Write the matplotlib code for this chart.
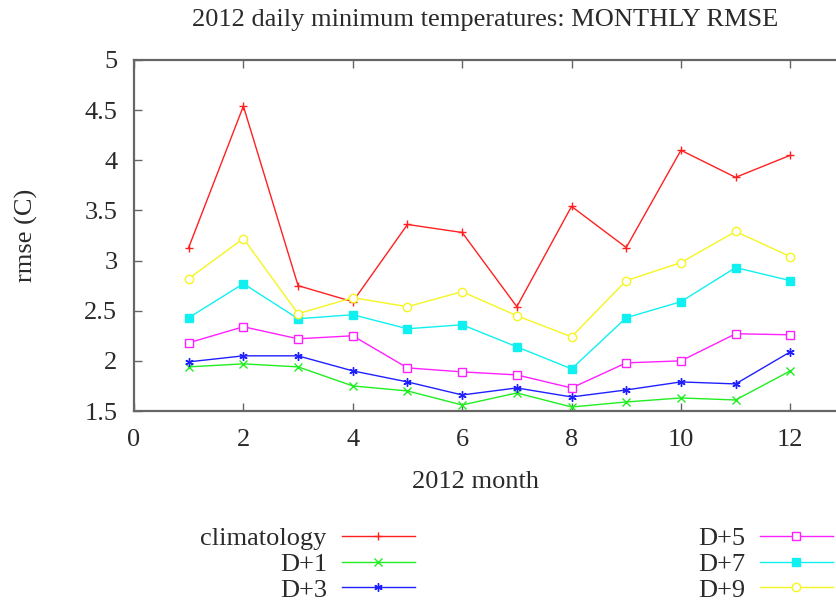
import matplotlib
matplotlib.use("Agg")
import matplotlib.pyplot as plt

plt.rcParams['font.family'] = ['Liberation Serif', 'DejaVu Serif']

months = [1, 2, 3, 4, 5, 6, 7, 8, 9, 10, 11, 12]

climatology = [3.13, 4.54, 2.75, 2.59, 3.36, 3.28, 2.54, 3.54, 3.13, 4.10, 3.83, 4.05]
d1 = [1.94, 1.97, 1.94, 1.75, 1.70, 1.56, 1.68, 1.54, 1.59, 1.63, 1.61, 1.90]
d3 = [1.99, 2.05, 2.05, 1.90, 1.79, 1.66, 1.73, 1.64, 1.71, 1.79, 1.77, 2.09]
d5 = [2.18, 2.34, 2.22, 2.25, 1.93, 1.89, 1.86, 1.73, 1.98, 2.00, 2.27, 2.26]
d7 = [2.43, 2.77, 2.42, 2.46, 2.32, 2.36, 2.14, 1.92, 2.43, 2.59, 2.93, 2.80]
d9 = [2.82, 3.22, 2.47, 2.63, 2.54, 2.69, 2.45, 2.24, 2.80, 2.98, 3.29, 3.04]

x_ticks = [0, 2, 4, 6, 8, 10, 12]
y_ticks = [1.5, 2, 2.5, 3, 3.5, 4, 4.5, 5]
y_tick_labels = ["1.5", "2", "2.5", "3", "3.5", "4", "4.5", "5"]

series = [
    ("climatology", climatology, "#ff2020", dict(marker="+", mfc="none")),
    ("D+1", d1, "#20ee20", dict(marker="x", mfc="none")),
    ("D+3", d3, "#2020ff", dict(marker=(6, 2, 0), mfc="none")),
    ("D+5", d5, "#ff20ff", dict(marker="s", mfc="white")),
    ("D+7", d7, "#10f0f0", dict(marker="s", mfc="#10f0f0")),
    ("D+9", d9, "#f5f520", dict(marker="o", mfc="white")),
]

FS = 19
TXT = "#2a2a2a"
W, H = 837, 603
fig = plt.figure(figsize=(W / 100, H / 100), dpi=100)

# plot box in pixel coordinates (right edge runs just past the canvas)
left, right, top, bottom = 134, 845, 60, 411
ax = fig.add_axes([left / W, 1 - bottom / H, (right - left) / W, (bottom - top) / H])

handles = []
for name, vals, col, mk in series:
    ln, = ax.plot(months, vals, color=col, lw=1.0, ms=6, mew=1.0, mec=col,
                  label=name, **mk)
    handles.append(ln)

ax.set_xlim(0, 13)
ax.set_ylim(1.5, 5)
ax.set_xticks(x_ticks)
ax.set_yticks(y_ticks)
ax.set_yticklabels(y_tick_labels)

for sp in ax.spines.values():
    sp.set_color("#666666")
    sp.set_linewidth(1.6)
ax.tick_params(direction="in", length=6, width=1.0, color="#666666",
               top=True, right=True, labelsize=FS, labelcolor=TXT)
ax.tick_params(axis="y", pad=12)
ax.tick_params(axis="x", pad=13)

fig.text(485 / W, 1 - 26 / H, "2012 daily minimum temperatures: MONTHLY RMSE",
         ha="center", va="baseline", fontsize=FS, color=TXT)
fig.text(26 / W, 1 - 235 / H, "rmse (C)", rotation=90, ha="center", va="center",
         fontsize=FS, color=TXT)
fig.text(476 / W, 1 - 488 / H, "2012 month", ha="center", va="baseline",
         fontsize=FS, color=TXT)

leg_kw = dict(frameon=False, markerfirst=False, fontsize=FS, handlelength=2.77,
              handletextpad=0.57, labelspacing=0.08, borderpad=0, borderaxespad=0,
              loc="upper right", bbox_transform=fig.transFigure)
leg1 = fig.legend(handles=handles[:3], bbox_to_anchor=(415 / W, 1 - 527 / H), **leg_kw)
leg2 = fig.legend(handles=handles[3:], bbox_to_anchor=(833 / W, 1 - 527 / H), **leg_kw)
for lg in (leg1, leg2):
    for t in lg.get_texts():
        t.set_color(TXT)

fig.savefig("out.png", dpi=100)
